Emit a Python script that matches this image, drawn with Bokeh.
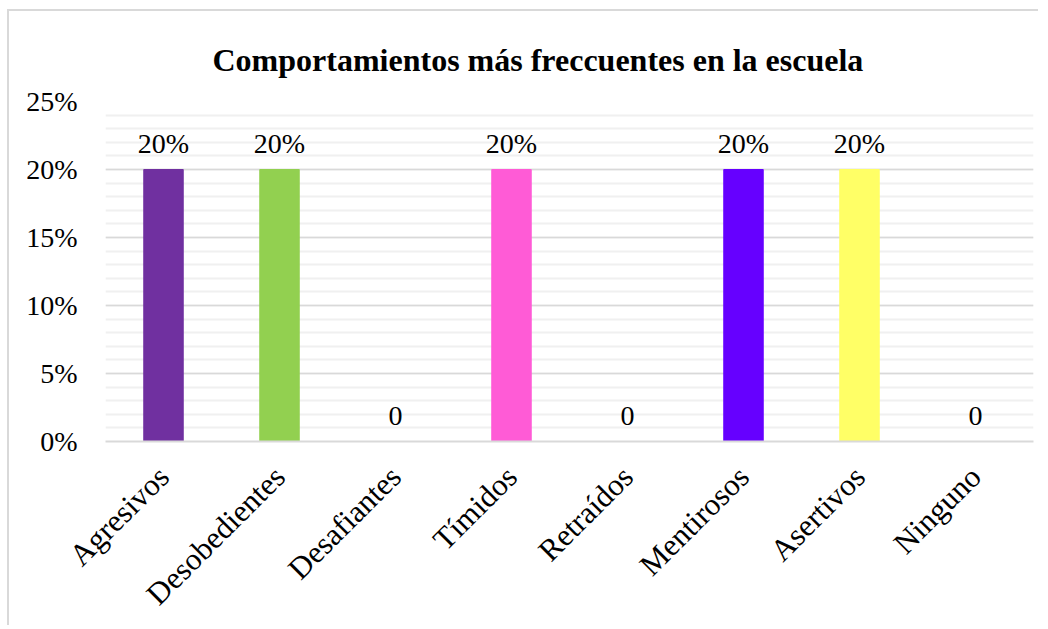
from bokeh.plotting import figure
from bokeh.models import FactorRange, Range1d, ColumnDataSource, NumeralTickFormatter, FixedTicker, LabelSet
from bokeh.embed import file_html
from bokeh.resources import INLINE
from bokeh.core.properties import value
import math

categories = ["Agresivos", "Desobedientes", "Desafiantes", "Tímidos", "Retraídos", "Mentirosos", "Asertivos", "Ninguno"]
values = [0.20, 0.20, 0.0, 0.20, 0.0, 0.20, 0.20, 0.0]
colors = ["#7030A0", "#92D050", "#FF5BD6", "#FF5BD6", "#A5A5A5", "#6600FF", "#FFFF66", "#5B9BD5"]
labels = [f"{v:.0%}" if v else "0" for v in values]
y_ticks = [0, 0.05, 0.10, 0.15, 0.20, 0.25]
title_text = "Comportamientos más freccuentes en la escuela"

FONT = "Liberation Serif"

src = ColumnDataSource(dict(cat=categories, val=values, color=colors, lab=labels))

p = figure(x_range=FactorRange(*categories, range_padding=0), y_range=Range1d(0, 0.25),
           width=1031, height=616, output_backend="svg", toolbar_location=None,
           min_border_left=96, min_border_right=7, min_border_top=90, min_border_bottom=185,
           title=title_text)
p.styles = {"margin-left": "7px", "margin-top": "9px",
            "border-top": "2px solid #d9d9d9", "border-left": "2px solid #d9d9d9"}
p.outline_line_color = None
p.background_fill_color = "white"

p.title.align = "left"
p.title.offset = 107
p.title.standoff = 48
p.title.text_font = FONT
p.title.text_font_size = "32px"
p.title.text_font_style = "bold"
p.title.text_color = "#000000"

p.vbar(x="cat", top="val", width=0.34, color="color", source=src)

p.add_layout(LabelSet(x="cat", y="val", text="lab", source=src, text_align="center",
                      text_baseline="alphabetic", y_offset=17, text_font=value(FONT),
                      text_font_size="28px", text_color="#000000"))

p.yaxis.ticker = FixedTicker(ticks=y_ticks, minor_ticks=[i / 100 for i in range(26)])
p.yaxis.formatter = NumeralTickFormatter(format="0%")
p.yaxis.axis_line_color = None
p.yaxis.major_tick_line_color = None
p.yaxis.minor_tick_line_color = None
p.yaxis.major_label_standoff = 22
p.yaxis.major_label_text_font = FONT
p.yaxis.major_label_text_font_size = "28px"
p.yaxis.major_label_text_color = "#000000"

p.xaxis.axis_line_color = "#d9d9d9"
p.xaxis.axis_line_width = 2
p.xaxis.major_tick_line_color = None
p.xaxis.minor_tick_line_color = None
p.xaxis.major_label_orientation = math.pi / 4
p.xaxis.major_label_standoff = 24
p.xaxis.major_label_text_font = FONT
p.xaxis.major_label_text_font_size = "31px"
p.xaxis.major_label_text_color = "#000000"

p.xgrid.grid_line_color = None
p.ygrid.grid_line_color = "#d9d9d9"
p.ygrid.grid_line_width = 1.5
p.ygrid.minor_grid_line_color = "#f0f0f0"
p.ygrid.minor_grid_line_width = 2

open("out.html", "w").write(file_html(p, INLINE))
